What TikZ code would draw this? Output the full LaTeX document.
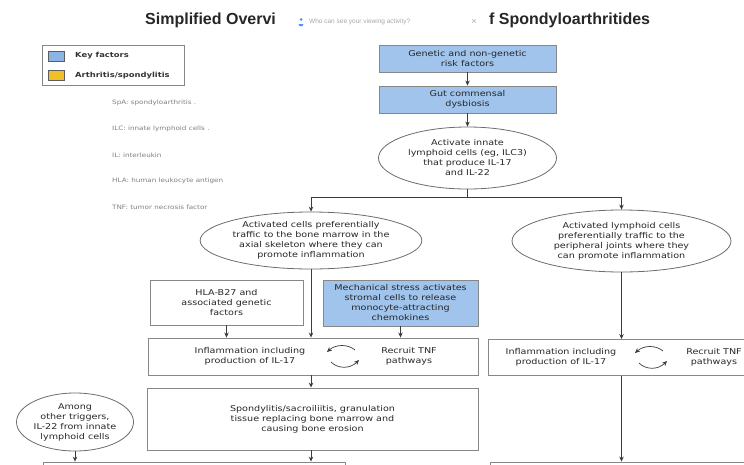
\documentclass[tikz,border=0pt]{standalone}
\usepackage{fontspec}
\setmainfont{DejaVu Sans}
\newfontfamily\boxfont[FakeStretch=1.2]{DejaVu Sans}
\newfontfamily\titlefont{Liberation Sans}
\usetikzlibrary{shapes.geometric,arrows.meta}

\definecolor{keyblue}{RGB}{160,196,236}
\definecolor{legblue}{RGB}{140,180,228}
\definecolor{legyellow}{RGB}{240,192,40}
\definecolor{edgegray}{RGB}{135,135,135}
\definecolor{lingray}{RGB}{60,60,60}

\tikzset{
  txt/.style={font=\boxfont\fontsize{8}{10}\selectfont, align=center, text=black!85},
  sqbox/.style={txt, draw=edgegray, line width=0.9pt, rectangle, inner sep=0pt},
  bluebox/.style={sqbox, fill=keyblue},
  oval/.style={txt, draw=edgegray!80!black, line width=0.8pt, ellipse, inner sep=0pt},
  conn/.style={draw=lingray, line width=0.7pt},
  arr/.style={conn, -{Stealth[length=5pt,width=4.5pt]}},
  abbr/.style={font=\boxfont\fontsize{6}{7}\selectfont, text=black!50, anchor=west, inner sep=0pt},
  legtxt/.style={font=\boxfont\bfseries\fontsize{7}{8}\selectfont, text=black!80, anchor=west, inner sep=0pt},
  titletxt/.style={font=\titlefont\bfseries\fontsize{16}{19}\selectfont, text=black!85, inner sep=0pt},
}

\begin{document}
\begin{tikzpicture}[x=1pt,y=-1pt]
\useasboundingbox (0,0) rectangle (744,464);
\clip (0,0) rectangle (744,464);

% title
\node[titletxt, anchor=base west] (t1) at (145,24) {Simplified Overvi};
\node[titletxt, anchor=base west] (t2) at (489,24) {f Spondyloarthritides};
\fill[blue!60!cyan!70] (301,19.5) circle (1.5);
\fill[blue!60!cyan!70] (298.6,24) arc (180:0:2.4) -- cycle;
\node[font=\titlefont\fontsize{6.5}{8}\selectfont, text=black!35, anchor=base west, inner sep=0pt] (pop) at (309,23.5) {Who can see your viewing activity?};
\node[font=\titlefont\fontsize{9}{10}\selectfont, text=black!35, anchor=base, inner sep=0pt] (popx) at (474,24) {×};

% legend
\draw[edgegray, line width=0.8pt] (42,45) rectangle (184,85);
\node[draw=edgegray!70!black, fill=legblue, minimum width=16, minimum height=10, inner sep=0pt] (lb) at (56,56) {};
\node[draw=edgegray!70!black, fill=legyellow, minimum width=16, minimum height=10, inner sep=0pt] (ly) at (56,75.5) {};
\node[legtxt] (lbt) at (75,56) {Key factors};
\node[legtxt] (lyt) at (75,75.5) {Arthritis/spondylitis};

% abbreviations
\node[abbr] (a1) at (112,103) {SpA: spondyloarthritis .};
\node[abbr] (a2) at (112,129) {ILC: innate lymphoid cells .};
\node[abbr] (a3) at (112,155) {IL: interleukin};
\node[abbr] (a4) at (112,181) {HLA: human leukocyte antigen};
\node[abbr] (a5) at (112,207) {TNF: tumor necrosis factor};

% top chain
\node[bluebox, minimum width=177, minimum height=27] (gen) at (467.5,58.5) {Genetic and non-genetic\\risk factors};
\node[bluebox, minimum width=177, minimum height=27] (gut) at (467.5,99.5) {Gut commensal\\dysbiosis};
\node[oval, minimum width=178, minimum height=62] (ilc) at (467.5,158) {Activate innate\\lymphoid cells (eg, ILC3)\\that produce IL-17\\and IL-22};

\node[oval, minimum width=218, minimum height=57] (lell) at (311,240.5) {Activated cells preferentially\\traffic to the bone marrow in the\\axial skeleton where they can\\promote inflammation};
\node[oval, minimum width=219, minimum height=62] (rell) at (621.5,241) {Activated lymphoid cells\\preferentially traffic to the\\peripheral joints where they\\can promote inflammation};

\node[sqbox, minimum width=153, minimum height=45] (hla) at (226.5,302.5) {HLA-B27 and\\associated genetic\\factors};
\node[bluebox, minimum width=155, minimum height=46] (mech) at (400.5,303) {Mechanical stress activates\\stromal cells to release\\monocyte-attracting\\chemokines};

\node[sqbox, minimum width=330, minimum height=37] (linf) at (313,356.5) {};
\node[txt] (linft) at (250,356.5) {Inflammation including\\production of IL-17};
\node[txt] (ltnf) at (409,356.5) {Recruit TNF\\pathways};
\draw[arr] (355,350) .. controls (348,344) and (336,344) .. (327,352);
\draw[arr] (331,362) .. controls (338,369) and (350,369) .. (359,360);

\node[sqbox, minimum width=282, minimum height=36] (rinf) at (629,357.5) {};
\node[txt] (rinft) at (561,357.5) {Inflammation including\\production of IL-17};
\node[txt] (rtnf) at (714,357.5) {Recruit TNF\\pathways};
\draw[arr] (663,351) .. controls (656,345) and (644,345) .. (635,353);
\draw[arr] (639,363) .. controls (646,370) and (658,370) .. (667,361);

\node[sqbox, minimum width=331, minimum height=62] (spon) at (312.5,419) {Spondylitis/sacroiliitis, granulation\\tissue replacing bone marrow and\\causing bone erosion};
\node[oval, minimum width=117, minimum height=58] (among) at (75,422) {Among\\other triggers,\\IL-22 from innate\\lymphoid cells};

\node[sqbox, minimum width=302, minimum height=30] (bl) at (194,477) {};
\node[sqbox, minimum width=290, minimum height=30] (br) at (635,477) {};

% connectors
\draw[arr] (gen) -- (gut);
\draw[arr] (gut) -- (ilc);
\coordinate (split) at (467.5,197);
\coordinate (splitL) at (311,197);
\coordinate (splitR) at (621.5,197);
\draw[conn] (ilc.south) -- (split);
\draw[conn] (splitL) -- (splitR);
\draw[arr] (splitL) -- (lell.north);
\draw[arr] (splitR) -- (rell.north);
\draw[arr] (lell.south) -- (lell.south |- linf.north);
\draw[arr] (hla.south) -- (hla.south |- linf.north);
\draw[arr] (mech.south) -- (mech.south |- linf.north);
\draw[arr] (linf.south -| lell.south) -- (lell.south |- spon.north);
\draw[arr] (spon.south -| lell.south) -- (lell.south |- bl.north);
\draw[arr] (among.south) -- (among.south |- bl.north);
\draw[arr] (rell.south) -- (rell.south |- rinf.north);
\draw[arr] (rinf.south -| rell.south) -- (rell.south |- br.north);
\end{tikzpicture}
\end{document}
